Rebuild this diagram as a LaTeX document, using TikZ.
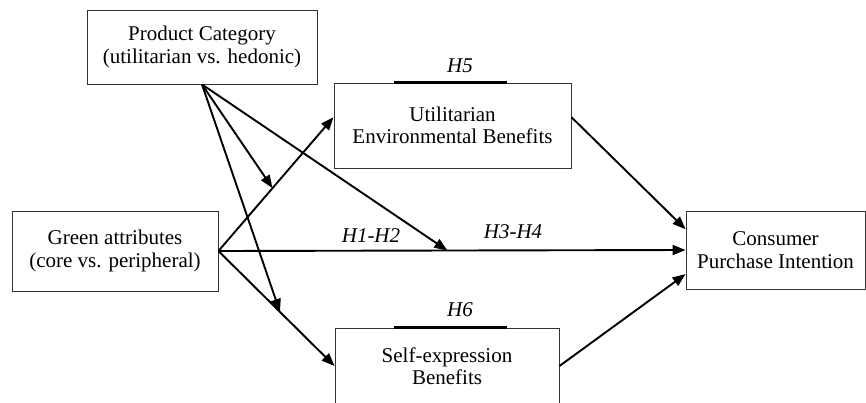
\documentclass[tikz,border=0pt]{standalone}
\usepackage{fontspec}
\setmainfont{Liberation Serif}
\usetikzlibrary{arrows.meta,calc}

\begin{document}
\begin{tikzpicture}[x=1pt, y=-1pt, >={Triangle[length=13pt, width=10pt]},
	every node/.style={font=\fontsize{21}{22.5}\selectfont},
	box/.style={draw=black!80, line width=0.9pt, align=center, inner sep=0pt},
	link/.style={->, line width=1.9pt},
	hyp/.style={font=\fontsize{21}{22.5}\selectfont\itshape}]
	\useasboundingbox (0,0) rectangle (866,402);
	% boxes
	\node[box, minimum width=230, minimum height=74] (prod) at (202,47) {Product Category\\(utilitarian vs. hedonic)};
	\node[box, minimum width=237, minimum height=85] (util) at (452.5,125.5) {Utilitarian\\Environmental Benefits};
	\node[box, minimum width=206, minimum height=80] (green) at (115,251) {Green attributes\\(core vs. peripheral)};
	\node[box, minimum width=224, minimum height=76] (self) at (447,366) {Self-expression\\Benefits};
	\node[box, minimum width=179, minimum height=78] (cons) at (775.5,250) {Consumer\\Purchase Intention};
	\draw[line width=2.6pt] ($(util.north west)+(60,0)$) -- ++(113,0);
	\draw[line width=2.6pt] ($(self.north west)+(59,0)$) -- ++(113,0);
	% hypotheses
	\node[hyp] (h5) at (460,66) {H5};
	\node[hyp] (h6) at (460,310) {H6};
	\node[hyp] (h12) at (371,236) {H1-H2};
	\node[hyp] (h34) at (513,232) {H3-H4};
	% paths
	\draw[link] (green.east) -- coordinate[pos=0.47] (onutil) (util.176);
	\draw[link] (green.east) -- coordinate[pos=0.49] (ondirect) (cons.west);
	\draw[link] (green.east) -- coordinate[pos=0.53] (onself) (self.west);
	\draw[link] (prod.south) -- (onutil);
	\draw[link] (prod.south) -- (ondirect);
	\draw[link] (prod.south) -- (onself);
	\draw[link] (util.4) -- (cons.167);
	\draw[link] (self.east) -- (cons.195);
\end{tikzpicture}
\end{document}
